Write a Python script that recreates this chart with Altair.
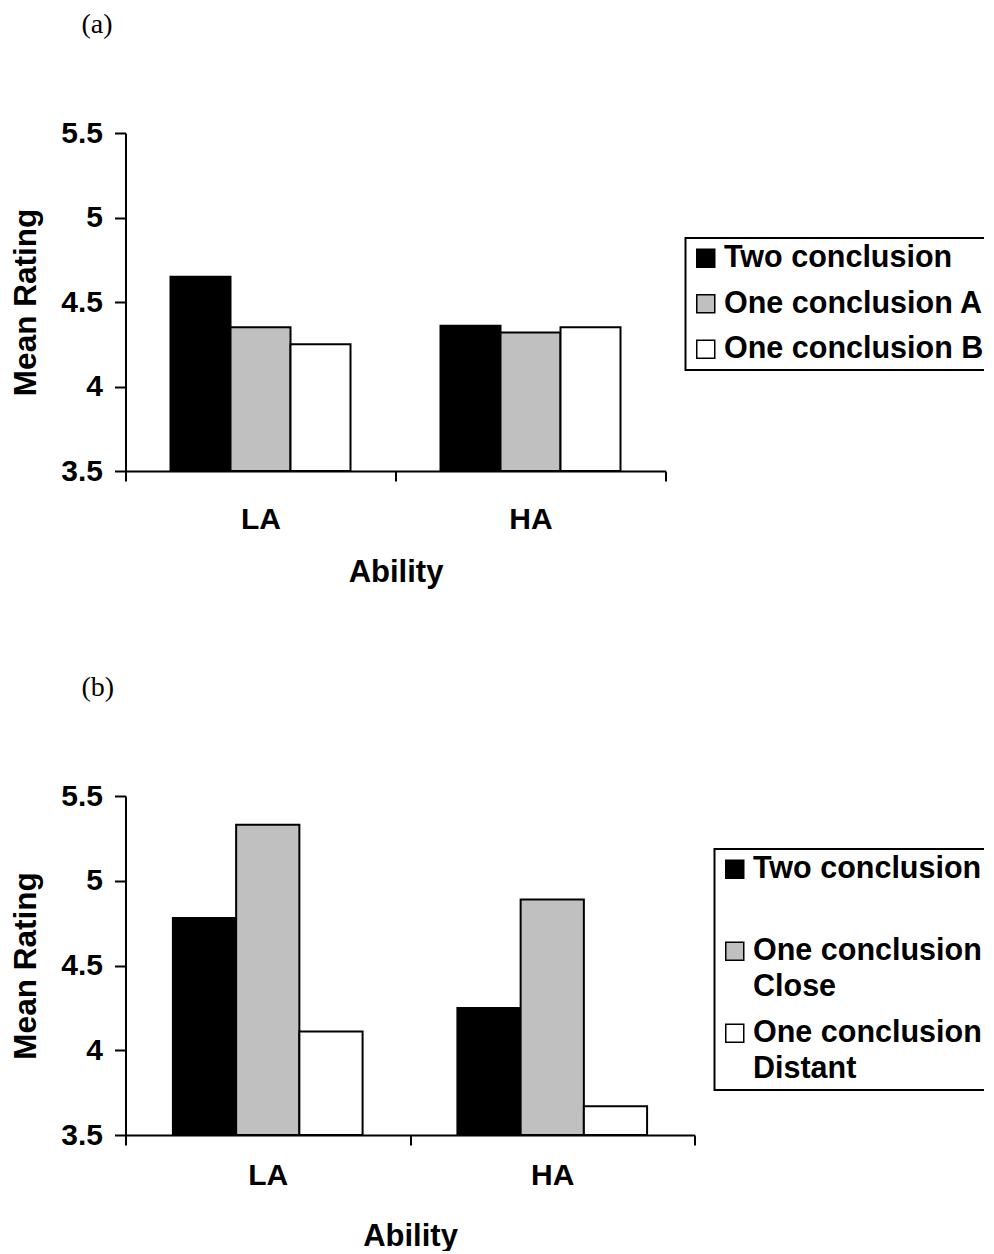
import altair as alt
import pandas as pd

# ---- data ----
abilities = ["LA", "HA"]
conds_a = ["Two conclusion", "One conclusion A", "One conclusion B"]
vals_a_LA = [4.65, 4.35, 4.25]
vals_a_HA = [4.36, 4.32, 4.35]

conds_b = ["Two conclusion", "One conclusion Close", "One conclusion Distant"]
vals_b_LA = [4.78, 5.33, 4.11]
vals_b_HA = [4.25, 4.89, 3.67]

y_ticks = [3.5, 4, 4.5, 5, 5.5]
fills = ["#000000", "#c0c0c0", "#ffffff"]
BASE = 3.5
Y_DOMAIN = [3.5, 5.5]

FONT = "Liberation Sans"
SERIF = "Liberation Serif"


def frame(conds, la, ha):
    rows = []
    for ab, vals in zip(abilities, [la, ha]):
        for c, v in zip(conds, vals):
            rows.append({"ability": ab, "cond": c, "value": v})
    return pd.DataFrame(rows)


def panel(df, conds, tag, width, height, lx, ly, lab_pad, tit_pad, two_line,
          row_pad, leg_pad):
    legend_kw = dict(
        title=None, orient="none", legendX=lx, legendY=ly,
        symbolType="square", symbolSize=324, symbolStrokeColor="black",
        symbolStrokeWidth=1.5, labelFont=FONT, labelFontSize=30.5,
        labelFontWeight="bold", labelColor="black", labelLimit=0,
        labelOffset=3, rowPadding=row_pad, padding=leg_pad, strokeColor="black",
    )
    if two_line:
        legend_kw["labelExpr"] = "[slice(datum.label, 0, 14), slice(datum.label, 15)]"
    return alt.Chart(df).mark_bar(stroke="black", strokeWidth=2).encode(
        x=alt.X("ability:N", sort=abilities,
                scale=alt.Scale(paddingInner=0, paddingOuter=0),
                axis=alt.Axis(title="Ability", tickBand="extent", labelAngle=0,
                              tickSize=10, labelPadding=lab_pad, titlePadding=tit_pad,
                              labelFontSize=30, titleFontSize=31)),
        xOffset=alt.XOffset("cond:N", sort=conds,
                            scale=alt.Scale(paddingInner=0, paddingOuter=0.75)),
        y=alt.Y("value:Q", scale=alt.Scale(domain=Y_DOMAIN, zero=False, nice=False),
                axis=alt.Axis(values=y_ticks, format=".1~f", title="Mean Rating",
                              tickSize=11, labelPadding=12, titlePadding=18,
                              labelFontSize=30, titleFontSize=31.5)),
        y2=alt.datum(BASE),
        fill=alt.Fill("cond:N", sort=conds,
                      scale=alt.Scale(domain=conds, range=fills),
                      legend=alt.Legend(**legend_kw)),
    ).properties(
        width=width, height=height,
        title=alt.TitleParams(tag, anchor="start", frame="group", font=SERIF,
                              fontSize=28, fontWeight="normal", color="black",
                              dx=-44, offset=51, baseline="bottom"),
    )


chart_a = panel(frame(conds_a, vals_a_LA, vals_a_HA), conds_a, "(a)", 540, 338,
                560, 105, 23, 23, False, 14.5, 5)
chart_b = panel(frame(conds_b, vals_b_LA, vals_b_HA), conds_b, "(b)", 569, 339,
                589, 53, 15, 31, True, 15, 5)

chart = alt.vconcat(chart_a, chart_b, spacing=87).resolve_scale(
    fill="independent", xOffset="independent", x="independent"
).resolve_legend(fill="independent").properties(
    padding={"left": 2.5, "top": 3, "right": -6, "bottom": 0}
).configure(
    style={"guide-label": {"lineHeight": 36}}
).configure_view(stroke=None).configure_axis(
    grid=False, domainColor="black", domainWidth=2, tickColor="black",
    tickWidth=2, labelFont=FONT, labelFontWeight="bold", labelColor="black",
    titleFont=FONT, titleFontWeight="bold", titleColor="black",
).configure_legend(strokeWidth=2)

chart.save("out.html", embed_options={"renderer": "svg", "actions": False})
